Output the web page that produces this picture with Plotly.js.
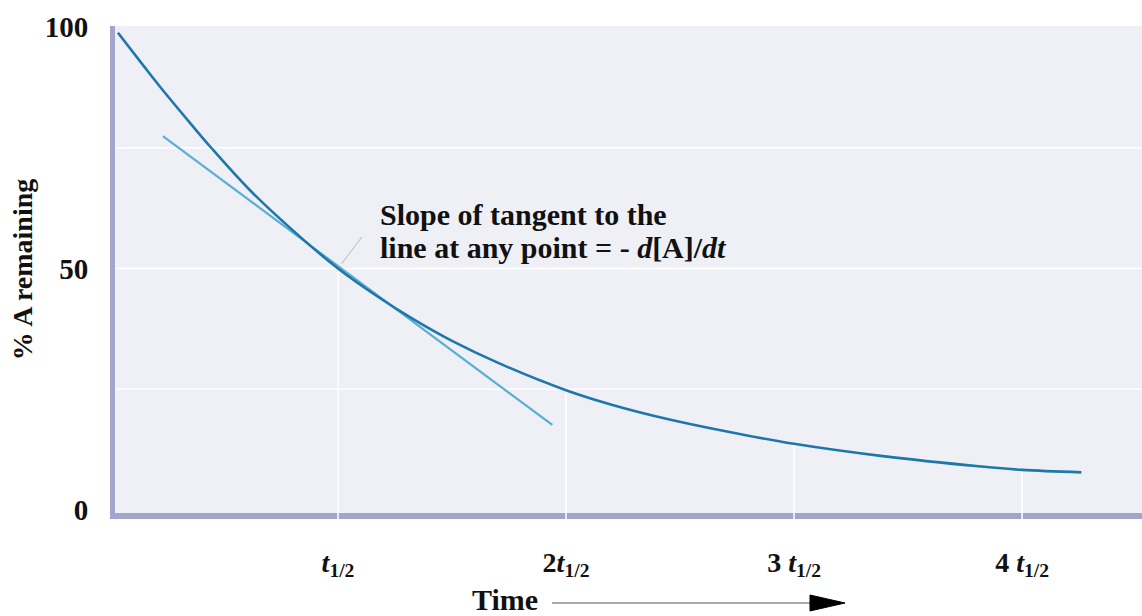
<!DOCTYPE html>
<html>
<head>
<meta charset="utf-8">
<script src="https://cdn.plot.ly/plotly-3.0.1.min.js"></script>
<style>html,body{margin:0;padding:0;background:#fff;}#chart{width:1142px;height:616px;}</style>
</head>
<body>
<div id="chart"></div>
<script>
// Decay curve (% A remaining vs time in half-lives)
const curveX = [0.035, 0.15, 0.232, 0.35, 0.44, 0.614, 0.833, 1.0, 1.17, 1.33, 1.5, 1.70, 2.0, 2.2, 2.43, 2.7, 3.0, 3.38, 3.82, 4.0, 4.26];
const curveY = [98.8, 91.8, 86.9, 80.2, 75.2, 66.2, 56.6, 50.0, 44.3, 39.5, 35.0, 30.5, 24.8, 21.8, 19.0, 16.3, 13.7, 11.2, 9.0, 8.3, 7.8];

// Tangent line at t1/2
const tangentX = [0.232, 1.94];
const tangentY = [77.4, 17.6];

// Half-life markers (drop lines from the curve to the axis)
const halfX = [1, 2, 3, 4];
const halfY = [50, 24.8, 13.7, 8.3];

// Tick labels
const xTickVals = [1, 2, 3, 4];
const xTickText = ['<i>t</i><sub>1/2</sub>', '2<i>t</i><sub>1/2</sub>', '3 <i>t</i><sub>1/2</sub>', '4 <i>t</i><sub>1/2</sub>'];
const yTickVals = [0, 50, 100];
const yTickText = ['0', '50', '100'];
const yGridVals = [25, 50, 75];

const yRange = [-0.62, 100.2];
const xRange = [0.022, 4.526];

const serif = 'Liberation Serif, Times New Roman, serif';

// drop lines built from half-life arrays
const dropX = [], dropY = [];
halfX.forEach((x, i) => { dropX.push(x, x, null); dropY.push(yRange[0], halfY[i], null); });

const traces = [
  { x: dropX, y: dropY, mode: 'lines', line: { color: '#ffffff', width: 1.5 }, hoverinfo: 'skip', showlegend: false },
  { x: tangentX, y: tangentY, mode: 'lines', line: { color: '#5aaed2', width: 2.2 }, showlegend: false },
  { x: curveX, y: curveY, mode: 'lines', line: { color: '#1e77a9', width: 2.6, shape: 'spline', smoothing: 1.0 }, showlegend: false }
];

const axisColor = '#a2a6cd';

// horizontal white grid lines
const shapes = yGridVals.map(v => ({
  type: 'line', xref: 'paper', yref: 'y', x0: 0, x1: 1, y0: v, y1: v,
  line: { color: '#ffffff', width: 1.5 }, layer: 'below'
}));
// gaps in the x axis line under each drop line
halfX.forEach(x => shapes.push({
  type: 'line', xref: 'x', yref: 'paper', x0: x, x1: x, y0: -0.016, y1: 0,
  line: { color: '#ffffff', width: 1.5 }, layer: 'above'
}));
// "Time" arrow
shapes.push({ type: 'line', xref: 'paper', yref: 'paper', x0: 0.4255, x1: 0.68, y0: -0.1848, y1: -0.1848,
  line: { color: '#555555', width: 1.2 } });
shapes.push({ type: 'path', xref: 'paper', yref: 'paper',
  path: 'M 0.6767 -0.1684 L 0.7108 -0.1848 L 0.6767 -0.2012 Z',
  fillcolor: '#000000', line: { color: '#000000', width: 1 } });

const layout = {
  width: 1142, height: 616,
  margin: { l: 115, r: 0, t: 26, b: 103 },
  paper_bgcolor: '#ffffff',
  plot_bgcolor: '#eef0f6',
  showlegend: false,
  xaxis: {
    range: xRange, tickvals: xTickVals, ticktext: xTickText,
    showgrid: false, zeroline: false, showline: true, linecolor: axisColor, linewidth: 6,
    ticks: '', ticklabelstandoff: 19,
    tickfont: { family: serif, size: 28, color: '#111111', weight: 'bold' }
  },
  yaxis: {
    range: yRange, tickvals: yTickVals, ticktext: yTickText,
    showgrid: false, zeroline: false, showline: true, linecolor: axisColor, linewidth: 5,
    ticks: '', ticklabelstandoff: 16,
    tickfont: { family: serif, size: 29, color: '#111111', weight: 'bold' },
    title: { text: '% A remaining', font: { family: serif, size: 28, color: '#111111', weight: 'bold' }, standoff: 5 }
  },
  shapes: shapes,
  annotations: [
    { xref: 'paper', yref: 'paper', x: 0.2561, y: 0.612, xanchor: 'left', yanchor: 'middle', showarrow: false,
      text: 'Slope of tangent to the', font: { family: serif, size: 30, color: '#111111', weight: 'bold' } },
    { xref: 'paper', yref: 'paper', x: 0.2561, y: 0.546, xanchor: 'left', yanchor: 'middle', showarrow: false,
      text: 'line at any point = - <i>d</i>[A]/<i>dt</i>', font: { family: serif, size: 30, color: '#111111', weight: 'bold' } },
    { xref: 'x', yref: 'y', x: halfX[0], y: halfY[0], text: '', showarrow: true, arrowhead: 0,
      ax: 25, ay: -33, standoff: 6, arrowcolor: '#b8b8b8', arrowwidth: 1 },
    { xref: 'paper', yref: 'paper', x: 0.3457, y: -0.178, xanchor: 'left', yanchor: 'middle', showarrow: false,
      text: 'Time', font: { family: serif, size: 30, color: '#111111', weight: 'bold' } }
  ]
};

Plotly.newPlot('chart', traces, layout, { displayModeBar: false, staticPlot: true });
</script>
</body>
</html>
